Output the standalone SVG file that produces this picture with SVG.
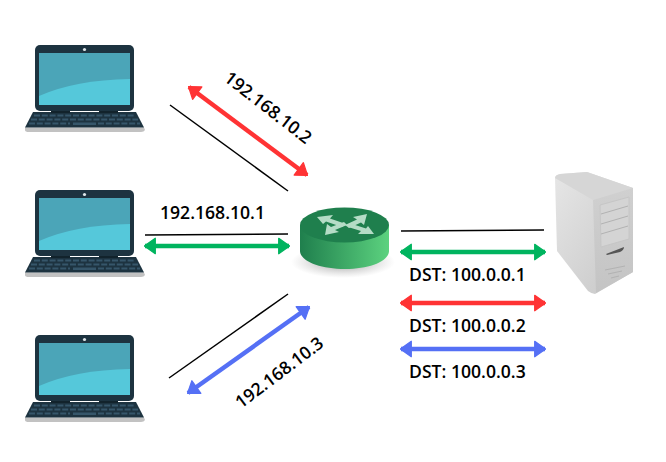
<svg xmlns="http://www.w3.org/2000/svg" width="666" height="462" viewBox="0 0 666 462">
<style>
text{font-family:"Open Sans","Noto Sans",sans-serif;font-size:17.6px;font-weight:600;fill:#000}
.thin{stroke:#000;stroke-width:1.5;fill:none}
.g{stroke:#00b45f;stroke-width:4.500}
.r{stroke:#ff3334;stroke-width:4.500}
.b{stroke:#5570f5;stroke-width:4.500}
.k{fill:none;stroke:#36566a;stroke-width:2;stroke-dasharray:6 1.800}
</style>
<defs>
<marker id="ag" viewBox="0 0 10 14" refX="9" refY="7" markerUnits="userSpaceOnUse" markerWidth="13" markerHeight="18" orient="auto-start-reverse"><path d="M1 1L9.500 7L1 13Z" fill="#00b45f" stroke="#00b45f" stroke-linejoin="round"/></marker>
<marker id="ar" viewBox="0 0 10 14" refX="9" refY="7" markerUnits="userSpaceOnUse" markerWidth="13" markerHeight="18" orient="auto-start-reverse"><path d="M1 1L9.500 7L1 13Z" fill="#ff3334" stroke="#ff3334" stroke-linejoin="round"/></marker>
<marker id="ab" viewBox="0 0 10 14" refX="9" refY="7" markerUnits="userSpaceOnUse" markerWidth="13" markerHeight="18" orient="auto-start-reverse"><path d="M1 1L9.500 7L1 13Z" fill="#5570f5" stroke="#5570f5" stroke-linejoin="round"/></marker>
<linearGradient id="side" x1="0" x2="1" y1="0" y2="0"><stop offset="0" stop-color="#1f7f4d"/><stop offset="1" stop-color="#5cd27f"/></linearGradient>
<radialGradient id="shadow"><stop offset="0" stop-color="#777" stop-opacity=".8"/><stop offset="1" stop-color="#aaa" stop-opacity="0"/></radialGradient>
<linearGradient id="srvleft" x1="0" x2="1" y1="0" y2="1"><stop offset="0" stop-color="#e6e6e6"/><stop offset="1" stop-color="#c6c6c6"/></linearGradient>
<linearGradient id="srvfront" x1="0" x2="0" y1="0" y2="1"><stop offset="0" stop-color="#d0d0d0"/><stop offset="1" stop-color="#c4c4c4"/></linearGradient>
<g id="laptop">
<path d="M25 127.500H144L145 130Q144 132 141 132H29Q25 132 25 130Z" fill="#c2c2c2"/>
<path d="M33 112H136L144 127.500H25Z" fill="#1d3340"/>
<path class="k" d="M34 115.500H135M31 119.500H138M29 123.500H70M98 123.500H140"/>
<rect x="73" y="122.500" width="23" height="2.500" fill="#36566a"/>
<rect x="35" y="45" width="99" height="66" rx="5" fill="#1d3340"/>
<circle cx="84.500" cy="49.500" r="1.600" fill="#dfe7ea"/>
<rect x="39" y="53" width="91" height="52" fill="#4ba5b8"/>
<path d="M39 96Q75 80 130 79V105H39Z" fill="#55c8da"/>
<rect x="51" y="111" width="19" height="2" fill="#12232c"/><rect x="99" y="111" width="19" height="2" fill="#12232c"/>
</g>
</defs>

<g id="connectors">
<line class="thin" x1="170" y1="105" x2="288" y2="191"/>
<line class="thin" x1="145" y1="235" x2="288" y2="234"/>
<line class="thin" x1="169" y1="378" x2="288" y2="294"/>
<line class="thin" x1="401" y1="231" x2="544" y2="230"/>
<line class="r" x1="189" y1="87" x2="307" y2="175" marker-start="url(#ar)" marker-end="url(#ar)"/>
<line class="g" x1="145" y1="246" x2="289" y2="246" marker-start="url(#ag)" marker-end="url(#ag)"/>
<line class="b" x1="188" y1="393" x2="309" y2="307" marker-start="url(#ab)" marker-end="url(#ab)"/>
<line class="g" x1="401" y1="252" x2="545" y2="252" marker-start="url(#ag)" marker-end="url(#ag)"/>
<line class="r" x1="401" y1="303" x2="545" y2="303" marker-start="url(#ar)" marker-end="url(#ar)"/>
<line class="b" x1="401" y1="349" x2="545" y2="349" marker-start="url(#ab)" marker-end="url(#ab)"/>
</g>

<g id="laptop1"><use href="#laptop"/></g>
<g id="laptop2"><use href="#laptop" y="145"/></g>
<g id="laptop3"><use href="#laptop" y="290"/></g>

<g id="router">
<ellipse cx="343" cy="262" rx="52" ry="16" fill="url(#shadow)"/>
<path d="M300 225V251C300 261 320 269 345 269S389 261 389 251V225Z" fill="url(#side)"/>
<ellipse cx="344.500" cy="225" rx="44.500" ry="17.500" fill="#1f7f4d"/>
<g fill="#b5dcc6">
<path d="M317 217L333 215L330 218.500L346 224L342 227L326 221.500L323 224Z"/>
<path d="M367 214L364 225L361 222.500L349 228L345 225L357 219.500L353 217Z"/>
<path d="M325 235L327 224L331 227L344 222L347 225L335 230L339 232Z"/>
<path d="M374 234L358 234L361 231L348 227L352 224L366 228.500L368 226Z"/>
</g>
</g>

<g id="server">
<path d="M555 178Q555 175 560 174L587 172L633 188V272L595 294Q592 294 588 291L557 251Z" fill="url(#srvleft)"/>
<path d="M555 178Q555 175 560 174L587 172L633 188L593 200Z" fill="#d6d6d6"/>
<path d="M593 200L633 188V272L596 293Z" fill="url(#srvfront)"/>
<path d="M600 205L629 197V239L601 247Z" fill="#d4d4d4" stroke="#c6c6c6"/>
<g stroke="#b2b2b2" stroke-width="1" fill="none">
<path d="M601 214L628 206"/><path d="M601 224L628 216"/><path d="M601 234L628 226"/>
<path d="M605 270L625 266"/><path d="M608 274L622 271"/><path d="M611 278L619 276"/>
</g>
<path d="M606 254L624 247Q624 250 620 252L607 255Z" fill="#555"/>
</g>

<g id="labels">
<text x="160" y="219">192.168.10.1</text>
<text transform="translate(223 80) rotate(38)">192.168.10.2</text>
<text transform="translate(241 409) rotate(-37)">192.168.10.3</text>
<text x="409" y="281">DST: 100.0.0.1</text>
<text x="409" y="332">DST: 100.0.0.2</text>
<text x="409" y="378">DST: 100.0.0.3</text>
</g>
</svg>
